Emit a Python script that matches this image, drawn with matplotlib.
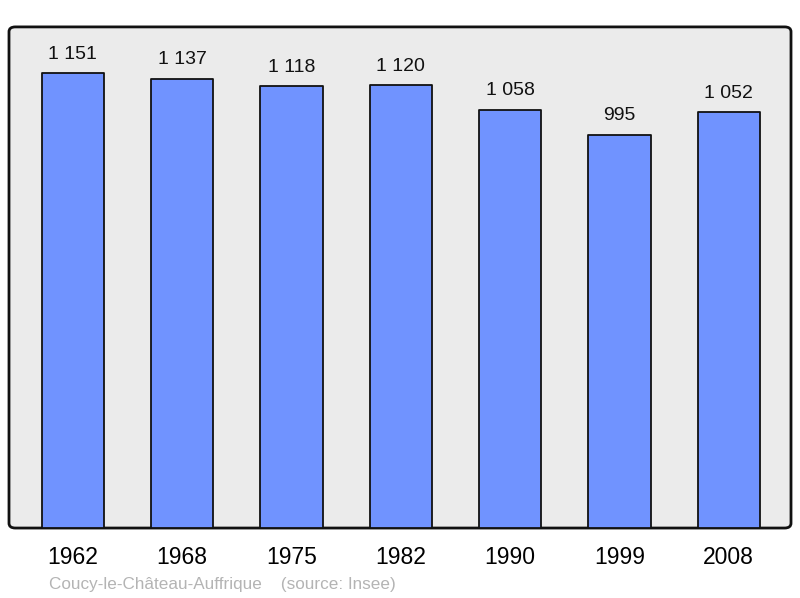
import matplotlib
matplotlib.use("Agg")
import matplotlib.pyplot as plt
from matplotlib.patches import FancyBboxPatch

# population data
years = ["1962", "1968", "1975", "1982", "1990", "1999", "2008"]
population = [1151, 1137, 1118, 1120, 1058, 995, 1052]
value_labels = ["1 151", "1 137", "1 118", "1 120", "1 058", "995", "1 052"]
source_text = "Coucy-le-Château-Auffrique    (source: Insee)"

plt.rcParams["font.family"] = ["Liberation Sans", "DejaVu Sans"]

fig = plt.figure(figsize=(8, 5.98), dpi=100)
ax = fig.add_axes([0.01125, 0.117, 0.9775, 0.838])
ax.set_facecolor("none")

# rounded frame behind the axes
frame = FancyBboxPatch((0.01125, 0.117), 0.9775, 0.838,
                       boxstyle="round,pad=0,rounding_size=0.008",
                       transform=fig.transFigure, facecolor="#ebebeb",
                       edgecolor="#111111", linewidth=2, zorder=-5)
fig.patches.append(frame)

x = range(len(years))
ax.bar(x, population, width=0.57, color="#7093ff", edgecolor="#111111",
       linewidth=1.3, joinstyle="round", zorder=2)

for xi, val, lab in zip(x, population, value_labels):
    ax.annotate(lab, (xi, val), xytext=(0, 10.5), textcoords="offset points",
                ha="center", va="baseline", fontsize=14, color="#111111")

ax.set_xlim(-0.585, 6.57)
ax.set_ylim(0, 1268)
ax.set_xticks(list(x))
ax.set_xticklabels(years, fontsize=16.5)
ax.tick_params(axis="x", length=0, pad=13)
ax.set_yticks([])
for s in ax.spines.values():
    s.set_visible(False)

fig.text(49 / 800, 1 - 584 / 598, source_text, fontsize=12.3, color="#b4b4b4",
         ha="left", va="center")

fig.savefig("out.png", dpi=100)
